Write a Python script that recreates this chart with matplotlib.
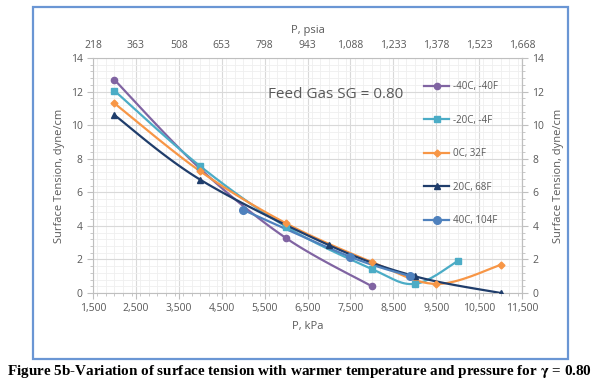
import numpy as np
import matplotlib
matplotlib.use("Agg")
import matplotlib.pyplot as plt
from matplotlib.patches import Rectangle
from matplotlib.ticker import MultipleLocator, FuncFormatter

plt.rcParams['font.family'] = ['Open Sans', 'DejaVu Sans']
plt.rcParams['mathtext.fontset'] = 'stix'

# ---- data ----
series_names = ["-40C, -40F", "-20C, -4F", "0C, 32F", "20C, 68F", "40C, 104F"]
p_m40 = [2000, 4000, 6000, 8000]
st_m40 = [12.7, 7.4, 3.27, 0.4]
p_m20 = [2000, 4000, 6000, 8000, 9000, 10000]
st_m20 = [12.05, 7.55, 3.95, 1.43, 0.54, 1.9]
p_0 = [2000, 4000, 6000, 8000, 9500, 11000]
st_0 = [11.3, 7.25, 4.15, 1.85, 0.54, 1.67]
p_20 = [2000, 4000, 7000, 9000, 11000]
st_20 = [10.6, 6.75, 2.85, 1.0, 0.0]
p_40 = [5000, 7500, 8900]
st_40 = [4.95, 2.15, 1.0]

kpa_ticks = [1500, 2500, 3500, 4500, 5500, 6500, 7500, 8500, 9500, 10500, 11500]
psia_labels = ["218", "363", "508", "653", "798", "943", "1,088", "1,233", "1,378", "1,523", "1,668"]
y_ticks = [0, 2, 4, 6, 8, 10, 12, 14]

colors = ["#8064A2", "#4BACC6", "#F79646", "#1F3D6B", "#4F81BD"]
markers = ["o", "s", "D", "^", "o"]
msizes = [4.5, 5, 3.5, 5, 5.5]

XMIN, XMAX, YMIN, YMAX = 1500, 11500, 0, 14
W_PX, H_PX = 429.0, 235.0


def smooth(xs, ys, n=30):
    # Excel-like smoothed line: Catmull-Rom Bezier in screen-normalised space
    x = (np.asarray(xs, float) - XMIN) / (XMAX - XMIN) * W_PX
    y = (np.asarray(ys, float) - YMIN) / (YMAX - YMIN) * H_PX
    pts = np.column_stack([x, y])
    out = [pts[0]]
    m = len(pts)
    for i in range(m - 1):
        p0 = pts[max(i - 1, 0)]
        p1 = pts[i]
        p2 = pts[i + 1]
        p3 = pts[min(i + 2, m - 1)]
        c1 = p1 + (p2 - p0) / 6.0
        c2 = p2 - (p3 - p1) / 6.0
        t = np.linspace(0, 1, n)[1:, None]
        seg = ((1 - t) ** 3) * p1 + 3 * ((1 - t) ** 2) * t * c1 + 3 * (1 - t) * t ** 2 * c2 + t ** 3 * p2
        out.extend(seg)
    out = np.array(out)
    return out[:, 0] / W_PX * (XMAX - XMIN) + XMIN, out[:, 1] / H_PX * (YMAX - YMIN) + YMIN


fig = plt.figure(figsize=(6.0, 3.82), dpi=100)
ax = fig.add_axes([93 / 600, 1 - 293 / 382, (522 - 93) / 600, (293 - 58) / 382])

grey_txt = "#595959"
ax.set_xlim(XMIN, XMAX)
ax.set_ylim(YMIN, YMAX)
ax.xaxis.set_minor_locator(MultipleLocator(200))
ax.yaxis.set_minor_locator(MultipleLocator(0.4))
ax.set_xticks(kpa_ticks)
ax.set_yticks(y_ticks)
ax.xaxis.set_major_formatter(FuncFormatter(lambda v, p: f"{int(v):,}"))
ax.grid(which="major", color="#D9D9D9", lw=0.8)
ax.grid(which="minor", color="#EFEFEF", lw=0.6)
ax.set_axisbelow(True)
for s in ax.spines.values():
    s.set_color("#BFBFBF")
    s.set_linewidth(0.8)
ax.tick_params(which="both", colors="#BFBFBF", labelcolor=grey_txt, labelsize=7.5, direction="out")
ax.tick_params(which="major", length=4)
ax.tick_params(which="minor", length=2.5)
ax.set_xlabel("P, kPa", color=grey_txt, fontsize=8, labelpad=5)
ax.set_ylabel("Surface Tension, dyne/cm", color=grey_txt, fontsize=8, labelpad=4)

data = [(p_m40, st_m40), (p_m20, st_m20), (p_0, st_0), (p_20, st_20), (p_40, st_40)]
handles = []
for (xs, ys), name, c, mk, ms in zip(data, series_names, colors, markers, msizes):
    sx, sy = smooth(xs, ys)
    ax.plot(sx, sy, color=c, lw=1.6, solid_capstyle="round", zorder=3)
    ax.plot(xs, ys, ls="none", marker=mk, ms=ms, color=c, zorder=4)
    h, = ax.plot([], [], color=c, lw=1.6, marker=mk, ms=ms, label=name)
    handles.append(h)

leg = ax.legend(handles=handles, loc="upper left", bbox_to_anchor=(0.772, 0.9),
                frameon=False, fontsize=7, labelspacing=2.3, handlelength=2.6,
                handletextpad=0.4, borderaxespad=0, borderpad=0)
for t in leg.get_texts():
    t.set_color(grey_txt)

ax.text(5580, 11.8, "Feed Gas SG = 0.80", fontsize=11, color=grey_txt, va="center")

# top axis (psia)
axt = ax.twiny()
axt.set_xlim(XMIN, XMAX)
axt.set_xticks(kpa_ticks)
axt.set_xticklabels(psia_labels)
axt.tick_params(axis="x", length=0, labelsize=7.5, labelcolor=grey_txt, pad=5)
axt.set_xlabel("P, psia", color=grey_txt, fontsize=8, labelpad=5)
for s in axt.spines.values():
    s.set_visible(False)

# right axis
axr = ax.twinx()
axr.set_ylim(YMIN, YMAX)
axr.set_yticks(y_ticks)
axr.yaxis.set_minor_locator(MultipleLocator(0.4))
axr.tick_params(which="both", colors="#BFBFBF", labelcolor=grey_txt, labelsize=7.5, direction="out")
axr.tick_params(which="major", length=4)
axr.tick_params(which="minor", length=2.5)
axr.set_ylabel("Surface Tension, dyne/cm", color=grey_txt, fontsize=8, rotation=90, labelpad=6)
for s in axr.spines.values():
    s.set_visible(False)
axr.spines["right"].set_visible(True)
axr.spines["right"].set_color("#BFBFBF")

# chart border
fig.patches.append(Rectangle((33 / 600, 1 - 359 / 382), (568 - 33) / 600, (359 - 7) / 382,
                             transform=fig.transFigure, fill=False, ec="#6A96D4", lw=1.6))

fig.text(0.5, 1 - 371 / 382,
         r"Figure 5b-Variation of surface tension with warmer temperature and pressure for $\mathbf{\gamma}$ = 0.80",
         ha="center", va="center", fontsize=10.9, fontweight="bold", family="Liberation Serif")

fig.savefig("out.png", dpi=100)
